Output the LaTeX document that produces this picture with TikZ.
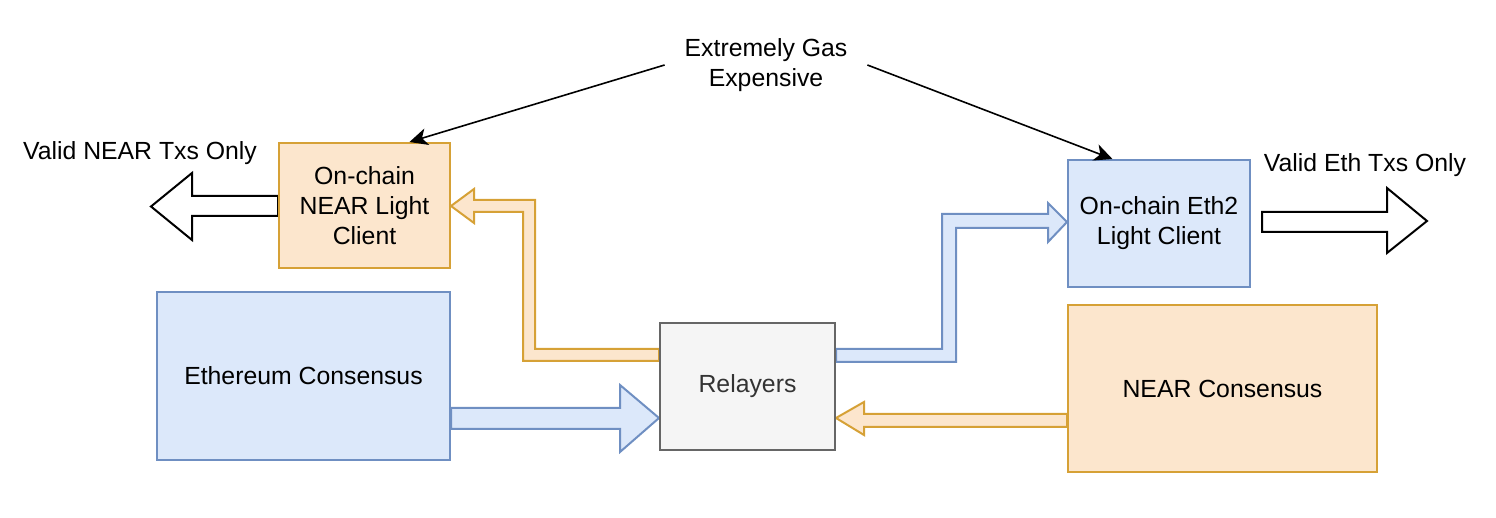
\documentclass[tikz,border=0pt]{standalone}
\usepackage{fontspec}
\setmainfont{Liberation Sans}
\usetikzlibrary{arrows.meta,calc}
\pgfdeclarelayer{bg}
\pgfsetlayers{bg,main}
\definecolor{ofill}{HTML}{FCE6CD}
\definecolor{odraw}{HTML}{D6A136}
\definecolor{bfill}{HTML}{DCE8FA}
\definecolor{bdraw}{HTML}{6F8FC2}
\definecolor{gfill}{HTML}{F5F5F5}
\definecolor{gdraw}{HTML}{666666}
\definecolor{gtext}{HTML}{333333}
\tikzset{
  txt/.style={font=\fontsize{12.4}{15}\selectfont, align=center},
  obox/.style={txt, draw=odraw, fill=ofill, line width=1pt, inner sep=0pt},
  bbox/.style={txt, draw=bdraw, fill=bfill, line width=1pt, inner sep=0pt},
  gbox/.style={txt, draw=gdraw, fill=gfill, line width=1pt, inner sep=0pt, text=gtext},
  oflow/.style={draw=odraw, fill=ofill, line width=1pt, line join=miter},
  bflow/.style={draw=bdraw, fill=bfill, line width=1pt, line join=miter},
  wflow/.style={draw=black, fill=white, line width=1pt, line join=miter},
  thin arrow/.style={draw=black, line width=0.8pt, -{Stealth[length=9pt,width=8.5pt,inset=2.5pt]}}
}
\begin{document}
\begin{tikzpicture}[x=0.5pt,y=-0.5pt]
\useasboundingbox (0,0) rectangle (1496,518);

% boxes
\node[obox, minimum width=85.5pt, minimum height=62.5pt] (nlc) at (364.5,205.5) {On-chain\\NEAR Light\\Client};
\node[bbox, minimum width=146.5pt, minimum height=84pt] (eth) at (303.5,376) {Ethereum Consensus};
\node[gbox, minimum width=87.5pt, minimum height=63.5pt] (relay) at (747.5,386.5) {Relayers};
\node[obox, minimum width=154.5pt, minimum height=83.5pt] (near) at (1222.5,388.5) {NEAR Consensus};
\node[bbox, minimum width=91pt, minimum height=63.5pt] (elc) at (1159,223.5) {On-chain Eth2\\Light Client};

% labels
\node[txt, inner sep=0pt, minimum width=101pt] (gas) at (766,65) {Extremely Gas\\Expensive};
\node[txt, inner sep=0pt] (vnear) at (140,153) {Valid NEAR Txs Only};
\node[txt, inner sep=0pt] (veth) at (1365,165) {Valid Eth Txs Only};

% thin arrows
\draw[thin arrow] (gas.west) -- ($(nlc.north west)!0.76!(nlc.north east)$);
\draw[thin arrow] (gas.east) -- ($(elc.north west)!0.247!(elc.north east)$);

\begin{pgfonlayer}{bg}
% relayers -> NEAR light client
\draw[oflow] (relay.west |- 0,349) -- (535,349) -- (535,200) -- (474,200) -- (474,189)
  -- (nlc.east |- 0,206) -- (474,223) -- (474,212) -- (523,212) -- (523,361) -- (relay.west |- 0,361) -- cycle;
% relayers -> Eth2 light client
\draw[bflow] (relay.east |- 0,349) -- (942,349) -- (942,214) -- (1048,214) -- (1048,203)
  -- (elc.west |- 0,222) -- (1048,242) -- (1048,228) -- (956,228) -- (956,362) -- (relay.east |- 0,362) -- cycle;
% Ethereum consensus -> relayers
\draw[bflow] (eth.east |- 0,408) -- (620,408) -- (620,385) -- (relay.west |- 0,418)
  -- (620,452) -- (620,429) -- (eth.east |- 0,429) -- cycle;
% NEAR consensus -> relayers
\draw[oflow] (near.west |- 0,414) -- (864,414) -- (864,402) -- (relay.east |- 0,418)
  -- (864,435) -- (864,427) -- (near.west |- 0,427) -- cycle;
% NEAR light client -> valid NEAR txs
\draw[wflow] (nlc.west |- 0,196) -- (192,196) -- (192,173) -- (151,206.5)
  -- (192,240) -- (192,216) -- (nlc.west |- 0,216) -- cycle;
\end{pgfonlayer}
% Eth2 light client -> valid Eth txs
\draw[wflow] (1262,212) -- (1387,212) -- (1387,188) -- (1427,221)
  -- (1387,253) -- (1387,232) -- (1262,232) -- cycle;
\end{tikzpicture}
\end{document}
